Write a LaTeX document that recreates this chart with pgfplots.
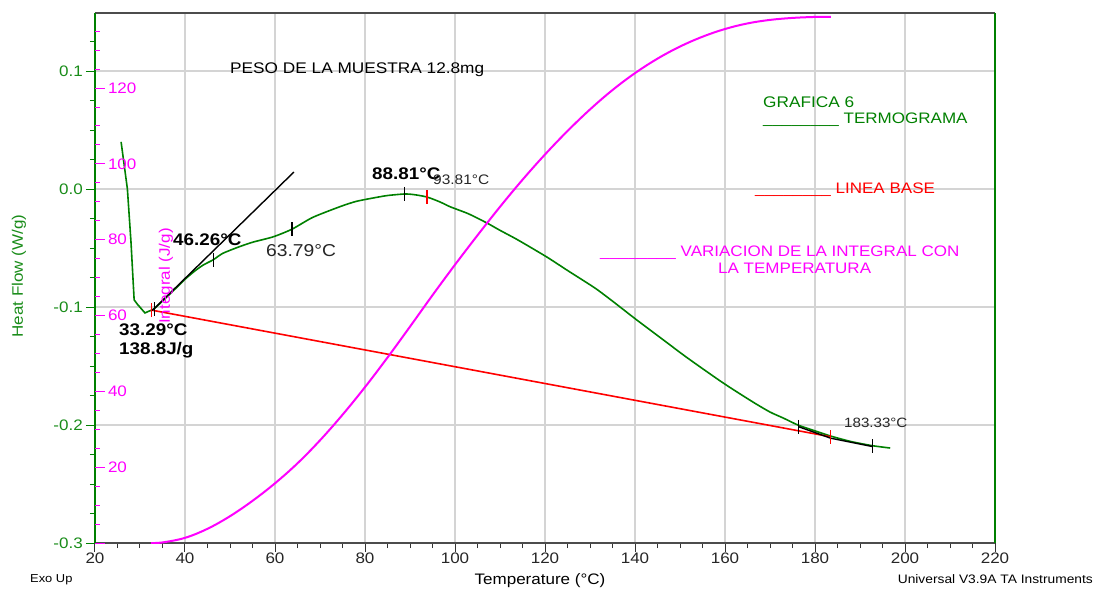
\documentclass[border=0pt]{standalone}
\usepackage{fontspec}
\setmainfont{Liberation Sans}[FakeStretch=1.12]
\usepackage{pgfplots}
\pgfplotsset{compat=1.18}
\definecolor{hfgreen}{RGB}{0,128,0}
\definecolor{lblgreen}{RGB}{25,140,25}
\definecolor{mag}{RGB}{255,0,255}
\definecolor{gridgray}{RGB}{212,212,212}
\newcommand{\fs}[1]{\fontsize{#1}{#1}\selectfont}
\begin{document}
\begin{tikzpicture}
\useasboundingbox (-95pt,-49pt) rectangle (1011pt,543pt);
\begin{axis}[
  at={(0,0)}, anchor=south west,
  scale only axis, width=900pt, height=530pt,
  xmin=20, xmax=220, ymin=-0.3, ymax=0.1492,
  xtick={20,40,...,220},
  minor xtick={25,30,...,215},
  ytick={-0.3,-0.2,-0.1,0,0.1},
  yticklabels={-0.3,-0.2,-0.1,0.0,0.1},
  minor ytick={-0.275,-0.25,-0.225,-0.175,-0.15,-0.125,-0.075,-0.05,-0.025,0.025,0.05,0.075,0.125},
  xtick pos=bottom, ytick pos=left,
  tick align=outside,
  major tick length=9pt, minor tick length=5pt,
  separate axis lines,
  x axis line style={draw=black!70, line width=1.4pt},
  y axis line style={draw=hfgreen, line width=1.4pt},
  xtick style={black!80, line width=1pt},
  ytick style={hfgreen, line width=1pt},
  /pgf/number format/assume math mode=true,
  xticklabel style={font=\fs{15.2}, text=black!85, inner sep=1pt},
  yticklabel style={font=\fs{15.2}, text=lblgreen, inner sep=3pt},
  grid=major, major grid style={gridgray, line width=1.3pt},
]
% thermogram: steep initial part
\addplot[hfgreen, line width=1.6pt] coordinates {
(25.8,0.040) (26.5,0.020) (27.2,0.0) (28.0,-0.045) (28.7,-0.094) (29.5,-0.098)
(31.1,-0.105) (32.0,-0.1035) (32.7,-0.1025) (33.3,-0.101)};
% thermogram: rest
\addplot[hfgreen, line width=1.6pt, smooth, tension=0.4] coordinates {
(33.3,-0.101) (35,-0.095) (38,-0.084)
(40,-0.0765) (42,-0.0700) (44,-0.0645) (46.26,-0.0600) (48.4,-0.0545) (52,-0.0490)
(55.1,-0.0450) (59.6,-0.0405) (63.79,-0.0340) (68.4,-0.0240) (74.4,-0.0150) (78,-0.0105)
(81.8,-0.0076) (85,-0.0055) (88.81,-0.0042) (91,-0.0048) (93.81,-0.0068) (96.7,-0.0110)
(98.9,-0.0150) (103,-0.0210) (107.1,-0.0288) (110,-0.0350) (114,-0.0432) (120.4,-0.0576)
(125,-0.0690) (131.1,-0.0839) (135,-0.0950) (140.4,-0.1110) (146,-0.1270) (151.6,-0.1430)
(159.6,-0.1644) (166.2,-0.1805) (170,-0.1890) (172.9,-0.1940) (176.2,-0.2000) (180,-0.2050)
(183.6,-0.2095) (188,-0.2140) (192.7,-0.2175) (196.7,-0.2195)};
% baseline
\addplot[red, line width=1.6pt] coordinates {(32.4,-0.1025) (183.5,-0.2100)};
% tangent lines
\addplot[black, line width=1.4pt] coordinates {(32.7,-0.1030) (64.2,0.0144)};
\addplot[black, line width=1.4pt] coordinates {(176.4,-0.2015) (183.5,-0.2112) (192.7,-0.2182)};
% tick marks
\addplot[only marks, mark=|, mark size=7pt, black, mark options={line width=1.3pt}] coordinates {
(33.29,-0.1020) (46.26,-0.0600) (63.79,-0.0340) (88.81,-0.0042) (176.4,-0.2015) (192.7,-0.2182)};
\addplot[only marks, mark=|, mark size=7pt, red, mark options={line width=1.3pt}] coordinates {
(32.6,-0.1025) (93.81,-0.0068) (183.4,-0.2105)};
\end{axis}
\begin{axis}[
  at={(0,0)}, anchor=south west,
  scale only axis, width=900pt, height=530pt,
  xmin=20, xmax=220, ymin=0, ymax=139.8,
  axis x line=none, axis y line*=left,
  y axis line style={draw=none},
  ytick={0,20,...,140},
  yticklabels={,20,40,60,80,100,120,},
  minor ytick={5,10,...,135},
  tick align=inside,
  major tick length=10pt, minor tick length=5pt,
  ytick style={mag, line width=1pt},
  yticklabel style={font=\fs{15.2}, text=mag, anchor=west, xshift=9.5pt},
]
\addplot[mag, line width=2pt, smooth, tension=0.6] coordinates {
(32.4,0) (35,0.15) (40,1.36) (45,3.75) (50,7.07) (55,11.12) (60,15.75) (65,21.02)
(70,27.08) (75,33.82) (80,41.12) (85,48.92) (90,57.07) (95,65.36) (100,73.40)
(105,81.16) (110,88.68) (115,95.81) (120,102.48) (125,108.67) (130,114.36)
(135,119.48) (140,123.94) (145,127.76) (150,130.95) (155,133.54) (160,135.58)
(165,137.05) (170,137.98) (175,138.50) (180,138.76) (183.5,138.8)};
\end{axis}
% axis labels
\node[rotate=90, text=lblgreen, font=\fs{15.2}] at (-76pt,267pt) {Heat Flow (W/g)};
\node[rotate=90, text=mag, font=\fs{15.2}] at (71pt,267pt) {Integral (J/g)};
\node[font=\fs{15.2}] at (445pt,-38pt) {Temperature (°C)};
\node[anchor=west, font=\fs{11.5}, inner sep=0pt] at (-65pt,-37pt) {Exo Up};
\node[anchor=east, font=\fs{12.3}, inner sep=0pt] at (998pt,-36pt) {Universal V3.9A TA Instruments};
% annotations
\node[anchor=base west, font=\fs{15.4}, inner sep=0pt] at (135pt,469pt) {PESO DE LA MUESTRA 12.8mg};
\node[anchor=base west, font=\fs{15.4}, text=hfgreen, inner sep=0pt] at (668pt,435pt) {GRAFICA 6};
\node[anchor=base west, font=\fs{15.2}, text=hfgreen, inner sep=0pt] at (668pt,419pt) {\_\_\_\_\_\_\_\_ TERMOGRAMA};
\node[anchor=base west, font=\fs{15.2}, text=red, inner sep=0pt] at (660pt,349pt) {\_\_\_\_\_\_\_\_ LINEA BASE};
\node[anchor=base west, font=\fs{15.2}, text=mag, inner sep=0pt] at (505pt,286pt) {\_\_\_\_\_\_\_\_ VARIACION DE LA INTEGRAL CON};
\node[anchor=base west, font=\fs{15.2}, text=mag, inner sep=0pt] at (623pt,269pt) {LA TEMPERATURA};
\node[anchor=base west, font=\bfseries\fs{16.8}, inner sep=0pt] at (78pt,297pt) {46.26°C};
\node[anchor=base west, font=\fs{17.2}, text=black!85, inner sep=0pt] at (171pt,286pt) {63.79°C};
\node[anchor=base west, font=\bfseries\fs{16.8}, inner sep=0pt] at (277pt,363pt) {88.81°C};
\node[anchor=base west, font=\fs{13.8}, text=black!85, inner sep=0pt] at (338pt,358pt) {93.81°C};
\node[anchor=base west, font=\bfseries\fs{16.8}, inner sep=0pt] at (24pt,207pt) {33.29°C};
\node[anchor=base west, font=\bfseries\fs{16.8}, inner sep=0pt] at (24pt,188pt) {138.8J/g};
\node[anchor=base west, font=\fs{13.5}, text=black!85, inner sep=0pt] at (749pt,115pt) {183.33°C};
\end{tikzpicture}
\end{document}
